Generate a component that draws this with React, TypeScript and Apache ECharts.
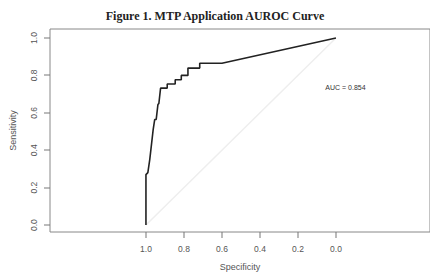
import React, { useEffect, useRef } from "react";
import * as echarts from "echarts";

const specificity = [1.0, 1.0, 0.99, 0.98, 0.968, 0.962, 0.954, 0.946, 0.937, 0.932, 0.923, 0.888, 0.888, 0.846, 0.846, 0.814, 0.814, 0.779, 0.779, 0.717, 0.717, 0.6, 0.0];
const sensitivity = [0.0, 0.27, 0.28, 0.35, 0.457, 0.51, 0.564, 0.565, 0.644, 0.65, 0.732, 0.732, 0.754, 0.754, 0.777, 0.777, 0.8, 0.8, 0.839, 0.839, 0.865, 0.865, 1.0];
const tickValues = [0, 0.2, 0.4, 0.6, 0.8, 1.0];
const diagX = [1, 0];
const diagY = [0, 1];
const aucText = "AUC = 0.854";
const aucPos = [-0.05, 0.735];

const X_MIN = -0.495;
const X_MAX = 1.505;
const Y_MIN = -0.037;
const Y_MAX = 1.048;

export default function App() {
  const ref = useRef<HTMLDivElement>(null);
  useEffect(() => {
    if (!ref.current) return;
    const chart = echarts.init(ref.current, null, { renderer: "svg" });
    const tickFont = { fontFamily: "Liberation Sans, Arial, sans-serif", fontSize: 8.5, color: "#555" };
    const axisLine = { show: false, onZero: false };
    chart.setOption({
      animation: false,
      backgroundColor: "#fff",
      title: {
        text: "Figure 1. MTP Application AUROC Curve",
        left: "center",
        top: 5,
        textStyle: { fontFamily: "Liberation Serif, Times New Roman, serif", fontWeight: "bold", fontSize: 12, color: "#222" },
      },
      grid: { left: 50, top: 29, right: 0, bottom: 43, show: true, borderColor: "#888", borderWidth: 1, backgroundColor: "transparent" },
      xAxis: {
        type: "value",
        inverse: true,
        min: X_MIN,
        max: X_MAX,
        splitLine: { show: false },
        axisLine,
        axisTick: { show: false },
        axisLabel: { ...tickFont, margin: 12, customValues: tickValues, formatter: (v: number) => v.toFixed(1) },
        name: "Specificity",
        nameLocation: "middle",
        nameGap: 30,
        nameTextStyle: { fontFamily: "Liberation Sans, Arial, sans-serif", fontSize: 9, color: "#555" },
      },
      yAxis: {
        type: "value",
        min: Y_MIN,
        max: Y_MAX,
        splitLine: { show: false },
        axisLine,
        axisTick: { show: false },
        axisLabel: { ...tickFont, margin: 12, rotate: 90, customValues: tickValues, formatter: (v: number) => v.toFixed(1) },
        name: "Sensitivity",
        nameLocation: "middle",
        nameGap: 33,
        nameTextStyle: { fontFamily: "Liberation Sans, Arial, sans-serif", fontSize: 9, color: "#555" },
      },
      series: [
        {
          type: "line",
          data: diagX.map((x, i) => [x, diagY[i]]),
          symbol: "none",
          lineStyle: { color: "#eeeeee", width: 1.5 },
          silent: true,
        },
        {
          type: "line",
          data: specificity.map((x, i) => [x, sensitivity[i]]),
          symbol: "none",
          lineStyle: { color: "#222", width: 1.6 },
        },
        {
          type: "scatter",
          data: [aucPos],
          symbolSize: 1,
          itemStyle: { color: "#ffffff", opacity: 0 },
          label: { show: true, opacity: 1, position: "top", distance: -4, formatter: aucText, fontFamily: "Liberation Sans, Arial, sans-serif", fontSize: 7, color: "#333333" },
        },
      ],
    });
    const ticks: any[] = [];
    tickValues.forEach((v) => {
      const px = chart.convertToPixel({ gridIndex: 0 }, [v, Y_MIN]) as number[];
      const py = chart.convertToPixel({ gridIndex: 0 }, [X_MAX, v]) as number[];
      ticks.push({ type: "rect", shape: { x: Math.round(px[0]) - 0.5, y: Math.round(px[1]), width: 1, height: 6 }, style: { fill: "#777" }, silent: true, z: 10 });
      ticks.push({ type: "rect", shape: { x: Math.round(py[0]) - 6, y: Math.round(py[1]) - 0.5, width: 6, height: 1 }, style: { fill: "#777" }, silent: true, z: 10 });
    });
    chart.setOption({ graphic: { elements: ticks } });
    return () => chart.dispose();
  }, []);
  return <div ref={ref} style={{ width: 430, height: 276, position: "absolute", left: 0, top: 0 }} />;
}
